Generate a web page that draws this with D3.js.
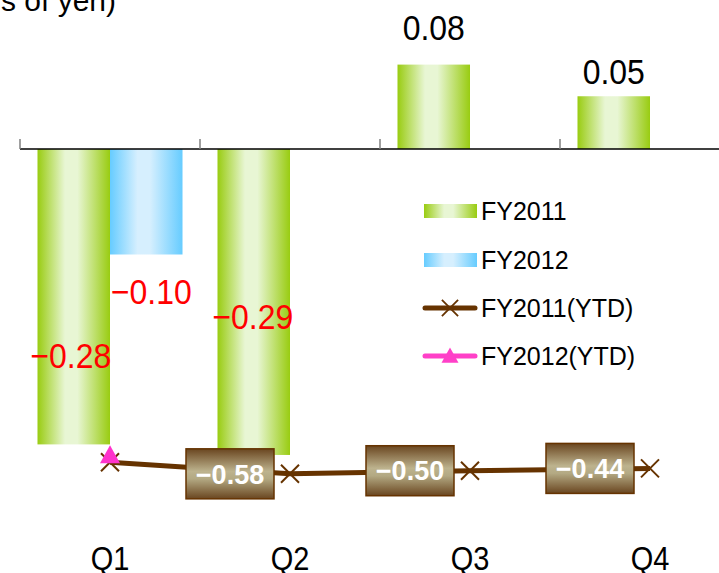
<!DOCTYPE html>
<html>
<head>
<meta charset="utf-8">
<script src="https://cdn.jsdelivr.net/npm/d3@7"></script>
<style>
  html, body { margin: 0; padding: 0; background: #fff; }
  svg { display: block; font-family: "Liberation Sans", Arial, sans-serif; }
</style>
</head>
<body>
<svg id="chart" width="719" height="573"></svg>
<script>
// Quarterly results (billions of yen)
const quarters = ["Q1", "Q2", "Q3", "Q4"];
const fy2011 = [-0.28, -0.29, 0.08, 0.05];
const fy2012 = [-0.10, null, null, null];
const fy2011Ytd = [-0.28, -0.58, -0.50, -0.44];
const fy2012Ytd = [-0.10, null, null, null];
const barSeries = ["FY2011", "FY2012"];
const legendLabels = ["FY2011", "FY2012", "FY2011(YTD)", "FY2012(YTD)"];
const unitLabel = "(Billions of yen)";

const svg = d3.select("#chart");
const W = 719, H = 573;

// Scales: categories run past the right edge of the frame
const x = d3.scaleBand().domain(quarters).range([20, 740]).paddingInner(0).paddingOuter(0);
const xSub = d3.scaleBand().domain(barSeries).range([0, x.bandwidth()]).paddingInner(0).paddingOuter(0.2414);
const y = d3.scaleLinear().domain([-0.40, 0.14]).range([571, 1.3]);
const y2 = d3.scaleLinear().domain([-0.6, 0]).range([474.6, 451.4]);

// Gradients
const defs = svg.append("defs");
function hGrad(id, edge, mid) {
  const g = defs.append("linearGradient").attr("id", id).attr("x1", 0).attr("x2", 1).attr("y1", 0).attr("y2", 0);
  g.append("stop").attr("offset", "0%").attr("stop-color", edge);
  g.append("stop").attr("offset", "38%").attr("stop-color", mid);
  g.append("stop").attr("offset", "55%").attr("stop-color", mid);
  g.append("stop").attr("offset", "100%").attr("stop-color", edge);
}
hGrad("gGreen", "#99cc11", "#e8f6d4");
hGrad("gBlue", "#66ccff", "#d6effe");
const bg = defs.append("linearGradient").attr("id", "gBox").attr("x1", 0).attr("x2", 0).attr("y1", 0).attr("y2", 1);
bg.append("stop").attr("offset", "0%").attr("stop-color", "#6a4620");
bg.append("stop").attr("offset", "45%").attr("stop-color", "#bdb38e");
bg.append("stop").attr("offset", "60%").attr("stop-color", "#b3a983");
bg.append("stop").attr("offset", "100%").attr("stop-color", "#6a4620");

// Text with slightly tall glyph proportions
function tallText(sel, k) {
  return sel.attr("transform", function () {
    const tx = +this.getAttribute("data-x"), ty = +this.getAttribute("data-y");
    return `translate(${tx},${ty}) scale(1,${k})`;
  });
}

// Unit label (left part runs off the frame)
svg.append("text").attr("x", 116).attr("y", 11).attr("text-anchor", "end")
  .attr("font-size", 30).attr("fill", "#000").text(unitLabel);

// Bars
const barData = [];
quarters.forEach((q, i) => {
  if (fy2011[i] != null) barData.push({ q, s: "FY2011", v: fy2011[i] });
  if (fy2012[i] != null) barData.push({ q, s: "FY2012", v: fy2012[i] });
});
svg.append("g").selectAll("rect").data(barData).join("rect")
  .attr("x", d => x(d.q) + xSub(d.s))
  .attr("width", xSub.bandwidth())
  .attr("y", d => Math.min(y(d.v), y(0)))
  .attr("height", d => Math.abs(y(d.v) - y(0)))
  .attr("fill", d => d.s === "FY2011" ? "url(#gGreen)" : "url(#gBlue)");

// Category axis line and tick marks
const y0 = y(0);
svg.append("line").attr("x1", 20).attr("x2", W).attr("y1", y0).attr("y2", y0)
  .attr("stroke", "#000").attr("stroke-width", 1.5);
svg.append("g").selectAll("line").data(quarters).join("line")
  .attr("x1", d => x(d)).attr("x2", d => x(d))
  .attr("y1", y0 - 10).attr("y2", y0)
  .attr("stroke", "#808080").attr("stroke-width", 1.5);

// Bar value labels
const barLabelNudge = { "Q1FY2011": [-3, -89], "Q1FY2012": [5, 37], "Q2FY2011": [-1, -139], "Q3FY2011": [0, -37], "Q4FY2011": [0, -25] };
const fmt = v => (v < 0 ? "\u2212" : "") + Math.abs(v).toFixed(2);
svg.append("g").selectAll("text").data(barData).join("text")
  .attr("data-x", d => x(d.q) + xSub(d.s) + xSub.bandwidth() / 2 + barLabelNudge[d.q + d.s][0])
  .attr("data-y", d => y(d.v) + barLabelNudge[d.q + d.s][1])
  .attr("dy", "0.36em")
  .attr("text-anchor", "middle")
  .attr("font-size", 32)
  .attr("fill", d => d.v < 0 ? "#ff0000" : "#000")
  .text(d => fmt(d.v))
  .call(tallText, 1.1);

// YTD lines
const cx = q => x(q) + x.bandwidth() / 2;
const ytd11 = quarters.map((q, i) => ({ q, v: fy2011Ytd[i] })).filter(d => d.v != null);
const ytd12 = quarters.map((q, i) => ({ q, v: fy2012Ytd[i] })).filter(d => d.v != null);
const line = d3.line().x(d => cx(d.q)).y(d => y2(d.v));
svg.append("path").datum(ytd11).attr("d", line).attr("fill", "none")
  .attr("stroke", "#663300").attr("stroke-width", 5).attr("stroke-linejoin", "round");
svg.append("path").datum(ytd12).attr("d", line).attr("fill", "none")
  .attr("stroke", "#ff33cc").attr("stroke-width", 5);

const crossPath = "M-9,-9L9,9M-9,9L9,-9";
const triPath = "M0,-10L10,8L-10,8Z";
svg.append("g").selectAll("path").data(ytd11).join("path")
  .attr("transform", d => `translate(${cx(d.q)},${y2(d.v)})`)
  .attr("d", crossPath).attr("stroke", "#663300").attr("stroke-width", 2).attr("fill", "none");
svg.append("g").selectAll("path").data(ytd12).join("path")
  .attr("transform", d => `translate(${cx(d.q)},${y2(d.v)})`)
  .attr("d", triPath).attr("fill", "#ff33cc");

// YTD value boxes, left of each point after Q1
const boxW = 88, boxH = 50;
const boxes = svg.append("g").selectAll("g").data(ytd11.slice(1)).join("g")
  .attr("transform", d => `translate(${cx(d.q) - 60},${y2(d.v)})`);
boxes.append("rect").attr("x", -boxW / 2).attr("y", -boxH / 2).attr("width", boxW).attr("height", boxH)
  .attr("fill", "url(#gBox)").attr("stroke", "#663300").attr("stroke-width", 1.5);
boxes.append("text").attr("text-anchor", "middle").attr("dy", "0.36em")
  .attr("font-size", 27).attr("font-weight", "bold").attr("fill", "#fff")
  .text(d => fmt(d.v));

// Category labels
svg.append("g").selectAll("text").data(quarters).join("text")
  .attr("data-x", d => cx(d)).attr("data-y", 570).attr("text-anchor", "middle")
  .attr("font-size", 29).attr("fill", "#000").text(d => d)
  .call(tallText, 1.12);

// Legend
const lg = svg.append("g");
const ly = [211, 260, 308, 356];
legendLabels.forEach((name, i) => {
  const g = lg.append("g").attr("transform", `translate(0,${ly[i]})`);
  if (i < 2) {
    g.append("rect").attr("x", 424).attr("y", -7).attr("width", 53).attr("height", 14)
      .attr("fill", i === 0 ? "url(#gGreen)" : "url(#gBlue)");
  } else {
    const col = i === 2 ? "#663300" : "#ff40c8";
    g.append("line").attr("x1", 425).attr("x2", 475).attr("y1", 0).attr("y2", 0)
      .attr("stroke", col).attr("stroke-width", 5).attr("stroke-linecap", "round");
    if (i === 2) {
      g.append("path").attr("transform", "translate(450,0) scale(0.9)").attr("d", crossPath)
        .attr("stroke", col).attr("stroke-width", 2).attr("fill", "none");
    } else {
      g.append("path").attr("transform", "translate(450,0) scale(0.85)").attr("d", triPath).attr("fill", col);
    }
  }
  g.append("text").attr("data-x", 481).attr("data-y", 0).attr("dy", "0.36em")
    .attr("font-size", 25).attr("fill", "#000").text(name)
    .call(tallText, 1.05);
});
</script>
</body>
</html>
